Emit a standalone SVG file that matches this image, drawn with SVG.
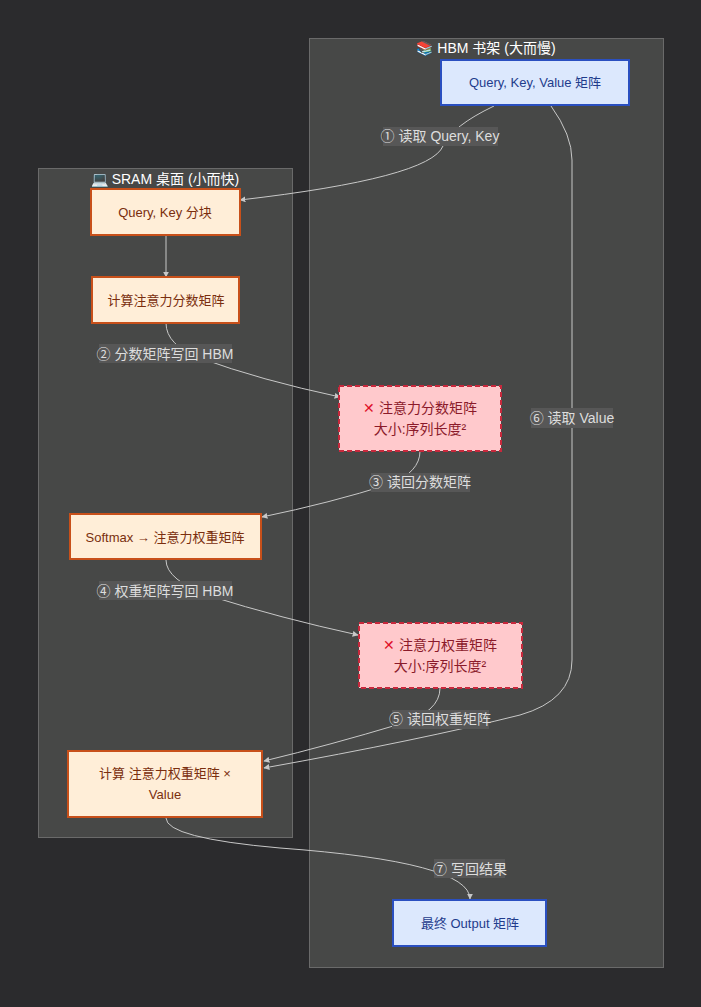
<svg xmlns="http://www.w3.org/2000/svg" width="701" height="1007" viewBox="0 0 701 1007">
<style>
text{font-family:"Liberation Sans","Noto Sans CJK SC",sans-serif;font-size:13px;text-anchor:middle}
.cl{fill:#474847;stroke:#6a6a6a;stroke-width:1}
.ct{fill:#ffffff;font-size:14px}
.o{fill:#ffeed8;stroke:#c8501a;stroke-width:2}
.ot{fill:#7a2e0e}
.b{fill:#dce8fd;stroke:#2a4fc0;stroke-width:2}
.bt{fill:#1f3c8c}
.r{fill:#ffc9cc;stroke:#c8283c;stroke-width:2;stroke-dasharray:5 3}
.rt{fill:#8b1a2a;font-size:14px}
.e{fill:none;stroke:#c8c8c8;stroke-width:1}
.lb{fill:#575757}
.lt{fill:#dddddd;font-size:14px}
</style>
<defs><marker id="a" viewBox="0 0 10 10" refX="9" refY="5" markerWidth="6" markerHeight="6" orient="auto"><path d="M0,0L10,5L0,10z" fill="#c8c8c8"/></marker></defs>
<rect width="701" height="1007" fill="#2b2b2d"/>
<g id="hbm"><rect class="cl" x="309.500" y="38.500" width="354" height="929"/><text class="ct" x="486" y="53">📚 HBM 书架 (大而慢)</text></g>
<g id="sram"><rect class="cl" x="38.500" y="168.500" width="254" height="669"/><text class="ct" x="165" y="184">💻 SRAM 桌面 (小而快)</text></g>
<g id="edges">
<path class="e" marker-end="url(#a)" d="M494,106 Q452,126 443,146 Q430,178 240,200"/>
<path class="e" marker-end="url(#a)" d="M166,236 L166,277"/>
<path class="e" marker-end="url(#a)" d="M166,323 Q166,345 200,358 Q260,380 340,397"/>
<path class="e" marker-end="url(#a)" d="M420,451 Q420,472 390,484 Q330,503 262,517"/>
<path class="e" marker-end="url(#a)" d="M166,560 Q166,580 210,596 Q280,618 358,635"/>
<path class="e" marker-end="url(#a)" d="M440,688 Q440,712 400,724 Q330,745 264,761"/>
<path class="e" marker-end="url(#a)" d="M551,106 Q572,135 572,160 L572,660 Q572,700 520,715 Q420,740 264,768"/>
<path class="e" marker-end="url(#a)" d="M166,818 Q166,838 280,848 Q470,862 470,899"/>
</g>
<g id="labels">
<rect class="lb" x="383" y="127" width="115" height="19"/><text class="lt" x="440" y="141">① 读取 Query, Key</text>
<rect class="lb" x="99" y="344" width="133" height="19"/><text class="lt" x="165" y="359">② 分数矩阵写回 HBM</text>
<rect class="lb" x="371" y="473" width="99" height="19"/><text class="lt" x="420" y="487">③ 读回分数矩阵</text>
<rect class="lb" x="99" y="581" width="133" height="19"/><text class="lt" x="165" y="596">④ 权重矩阵写回 HBM</text>
<rect class="lb" x="392" y="710" width="97" height="19"/><text class="lt" x="440" y="724">⑤ 读回权重矩阵</text>
<rect class="lb" x="531" y="408" width="82" height="20"/><text class="lt" x="572" y="423">⑥ 读取 Value</text>
<rect class="lb" x="434" y="859" width="71" height="19"/><text class="lt" x="470" y="874">⑦ 写回结果</text>
</g>
<g id="qkv"><rect class="b" x="441" y="60" width="188" height="45"/><text class="bt" x="535" y="87">Query, Key, Value 矩阵</text></g>
<g id="qk"><rect class="o" x="91" y="189" width="149" height="46"/><text class="ot" x="165" y="217">Query, Key 分块</text></g>
<g id="score"><rect class="o" x="92" y="277" width="147" height="46"/><text class="ot" x="166" y="305">计算注意力分数矩阵</text></g>
<g id="smat"><rect class="r" x="339" y="386" width="162" height="65"/><text class="rt" x="420" y="413"><tspan fill="#e0102a">✕</tspan> 注意力分数矩阵</text><text class="rt" x="420" y="434">大小:序列长度²</text></g>
<g id="softmax"><rect class="o" x="70" y="514" width="191" height="45"/><text class="ot" x="165" y="542">Softmax → 注意力权重矩阵</text></g>
<g id="wmat"><rect class="r" x="359" y="623" width="163" height="65"/><text class="rt" x="440" y="650"><tspan fill="#e0102a">✕</tspan> 注意力权重矩阵</text><text class="rt" x="440" y="671">大小:序列长度²</text></g>
<g id="calc"><rect class="o" x="68" y="751" width="194" height="66"/><text class="ot" x="165" y="778">计算 注意力权重矩阵 ×</text><text class="ot" x="165" y="799">Value</text></g>
<g id="out"><rect class="b" x="393" y="900" width="153" height="46"/><text class="bt" x="470" y="928">最终 Output 矩阵</text></g>
</svg>
